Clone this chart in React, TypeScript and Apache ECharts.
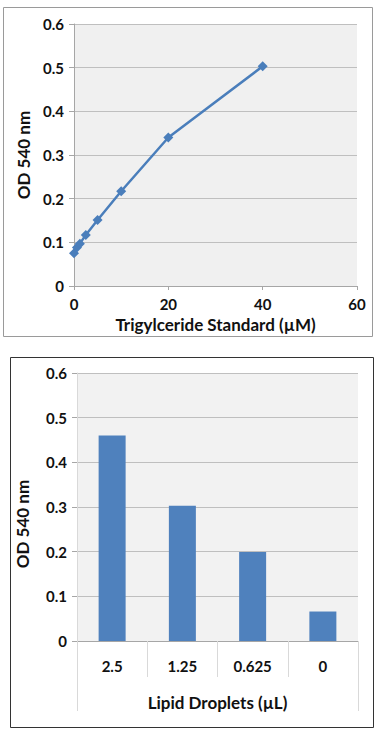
import React, { useEffect, useRef } from "react";
import * as echarts from "echarts";

const stdConc = [0, 0.625, 1.25, 2.5, 5, 10, 20, 40];
const stdOD = [0.075, 0.088, 0.097, 0.117, 0.151, 0.217, 0.34, 0.503];
const sampleLabels = ["2.5", "1.25", "0.625", "0"];
const sampleOD = [0.46, 0.303, 0.199, 0.066];
const topXName = "Trigylceride Standard (µM)";
const bottomXName = "Lipid Droplets (µL)";
const yName = "OD 540 nm";

const FONT = "Lato";
const labelStyle = { fontFamily: FONT, fontWeight: "bold" as const, fontSize: 15, color: "#111" };
const nameStyle = { fontFamily: FONT, fontWeight: "bold" as const, fontSize: 17, color: "#111" };
const fmt = (v: number) => (v === 0 ? "0" : v.toFixed(1));

export default function App() {
  const ref = useRef<HTMLDivElement>(null);
  useEffect(() => {
    if (!ref.current) return;
    const chart = echarts.init(ref.current, undefined, { renderer: "svg" });
    chart.setOption({
      animation: false,
      backgroundColor: "#fff",
      graphic: [
        { type: "rect", shape: { x: 3.5, y: 7.5, width: 369, height: 329 }, style: { fill: "none", stroke: "#9a9a9a", lineWidth: 1 } },
        { type: "rect", shape: { x: 10.5, y: 357.5, width: 363, height: 370 }, style: { fill: "none", stroke: "#333", lineWidth: 1 } },
      ],
      grid: [
        { left: 74, top: 24, width: 283, height: 262, show: true, backgroundColor: "#f0f0f0", borderWidth: 0 },
        { left: 77, top: 373, width: 281, height: 268, show: true, backgroundColor: "#f2f2f2", borderWidth: 0 },
      ],
      xAxis: [
        {
          type: "value", gridIndex: 0, min: 0, max: 60, interval: 20,
          axisLine: { show: true, lineStyle: { color: "#a6a6a6" } },
          axisTick: { show: true, length: 4, lineStyle: { color: "#a6a6a6" } },
          splitLine: { show: false },
          axisLabel: { ...labelStyle, margin: 10 },
          name: topXName, nameLocation: "middle", nameGap: 30, nameTextStyle: nameStyle,
        },
        {
          type: "category", gridIndex: 1, data: sampleLabels,
          axisLine: { show: true, lineStyle: { color: "#a6a6a6" } },
          axisTick: { show: true, alignWithLabel: false, length: 36, lineStyle: { color: "#d9d9d9" } },
          axisLabel: { ...labelStyle, margin: 17 },
        },
        {
          type: "category", gridIndex: 1, data: [""], position: "bottom",
          axisLine: { show: false },
          axisTick: { show: true, alignWithLabel: false, length: 70, lineStyle: { color: "#d9d9d9" } },
          axisLabel: { show: false },
          name: bottomXName, nameLocation: "middle", nameGap: 53, nameTextStyle: nameStyle,
        },
      ],
      yAxis: [
        {
          type: "value", gridIndex: 0, min: 0, max: 0.6, interval: 0.1,
          axisLine: { show: true, lineStyle: { color: "#a6a6a6" } },
          axisTick: { show: true, length: 5, lineStyle: { color: "#a6a6a6" } },
          splitLine: { show: true, lineStyle: { color: "#bfbfbf" } },
          axisLabel: { ...labelStyle, margin: 10, formatter: fmt },
          name: yName, nameLocation: "middle", nameGap: 40, nameTextStyle: nameStyle,
        },
        {
          type: "value", gridIndex: 1, min: 0, max: 0.6, interval: 0.1,
          axisLine: { show: true, lineStyle: { color: "#d9d9d9" } },
          axisTick: { show: true, length: 5, lineStyle: { color: "#a6a6a6" } },
          splitLine: { show: true, lineStyle: { color: "#bfbfbf" } },
          axisLabel: { ...labelStyle, margin: 10, formatter: fmt },
          name: yName, nameLocation: "middle", nameGap: 46,
          nameTextStyle: { ...nameStyle, padding: [0, 34, 0, 0] },
        },
      ],
      series: [
        {
          type: "line", xAxisIndex: 0, yAxisIndex: 0,
          data: stdConc.map((c, i) => [c, stdOD[i]]),
          symbol: "diamond", symbolSize: 10,
          itemStyle: { color: "#4a7ebb" },
          lineStyle: { color: "#4a7ebb", width: 2.5 },
        },
        {
          type: "bar", xAxisIndex: 1, yAxisIndex: 1,
          data: sampleOD, barWidth: 27,
          itemStyle: { color: "#4f81bd" },
        },
      ],
    });
    return () => chart.dispose();
  }, []);
  return <div ref={ref} style={{ position: "absolute", left: 0, top: 0, width: 382, height: 732 }} />;
}
